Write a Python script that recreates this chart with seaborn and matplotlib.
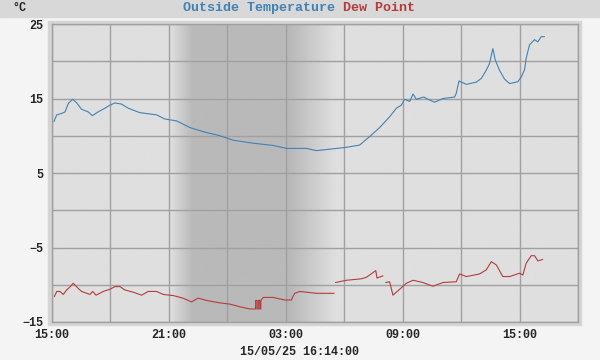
import numpy as np
import pandas as pd
import matplotlib
matplotlib.use('Agg')
import matplotlib.pyplot as plt
import matplotlib.dates as mdates
from matplotlib.patches import Rectangle
import seaborn as sns

# hours after 14/05/25 15:00
temp_hours = [0.1, 0.24, 0.5, 0.67, 0.84, 1.06, 1.27, 1.52, 1.86, 2.07, 2.37, 2.72, 2.97,
              3.23, 3.57, 3.91, 4.51, 5.37, 5.79, 6.39, 7.08, 7.76, 8.62, 9.3, 10.32, 11.35,
              12.04, 13.06, 13.57, 14.26, 15.11, 15.79, 16.31, 16.82, 17.33, 17.68, 17.93,
              18.1, 18.36, 18.53, 18.7, 19.08, 19.38, 19.64, 20.07, 20.67, 20.75, 20.89,
              21.27, 21.78, 22.04, 22.29, 22.46, 22.55, 22.63, 22.75, 22.97, 23.23, 23.49,
              23.91, 24.09, 24.26, 24.34, 24.51, 24.77, 24.94, 25.11, 25.28]
temp_values = [11.9, 12.8, 13.0, 13.2, 14.35, 14.9, 14.4, 13.55, 13.2, 12.7, 13.2, 13.7, 14.1,
               14.4, 14.25, 13.7, 13.1, 12.8, 12.25, 12.0, 11.1, 10.55, 10.0, 9.4, 9.0, 8.7,
               8.3, 8.3, 8.0, 8.2, 8.45, 8.75, 9.9, 11.1, 12.55, 13.7, 14.1,
               14.9, 14.6, 15.6, 14.9, 15.2, 14.8, 14.5, 15.0, 15.2, 15.7, 17.35,
               16.9, 17.2, 17.7, 18.8, 19.7, 20.8, 21.7, 20.2, 18.8, 17.6, 17.0,
               17.25, 17.9, 18.9, 20.4, 22.2, 22.9, 22.6, 23.3, 23.3]

dew_hours = [0.12, 0.24, 0.41, 0.58, 0.75, 0.92, 1.09, 1.35, 1.52, 1.95, 2.09, 2.26, 2.63,
             2.97, 3.23, 3.49, 3.74, 4.17, 4.6, 4.94, 5.37, 5.71, 6.22, 6.73, 7.16, 7.5,
             7.93, 8.53, 9.13, 9.64, 10.15, 10.41, 10.45, 10.45, 10.52, 10.52, 10.59, 10.59,
             10.66, 10.66, 10.72, 10.72,
             10.84, 11.35, 11.95, 12.29, 12.36, 12.46, 12.72, 13.57, 14.48,
             14.55, 15.11, 15.88, 16.14, 16.62, 16.68, 16.99,
             17.13, 17.33, 17.5, 17.85, 18.19, 18.53, 19.04, 19.55, 20.07, 20.75, 20.92,
             21.27, 21.95, 22.29, 22.55, 22.81, 23.14, 23.49, 24.0, 24.17, 24.34, 24.6,
             24.77, 24.94, 25.19]
dew_values = [-11.6, -10.9, -10.9, -11.3, -10.7, -10.3, -9.8, -10.5, -10.9, -11.3, -10.9, -11.4, -10.9,
              -10.6, -10.25, -10.25, -10.7, -11.0, -11.4, -10.9, -10.9, -11.3, -11.45, -11.8, -12.3, -11.8,
              -12.1, -12.4, -12.6, -12.95, -13.25, -13.25, -13.25, -12.1, -12.1, -13.25, -13.25, -12.1,
              -12.1, -13.25, -13.25, -12.1,
              -11.7, -11.7, -12.05, -12.05, -11.6, -11.15, -10.9, -11.15, -11.15,
              -9.7, -9.4, -9.2, -9.0, -8.1, -9.1, -8.8,
              -9.7, -9.6, -11.4, -10.6, -9.8, -9.4, -9.7, -10.2, -9.7, -9.6, -8.55,
              -8.9, -8.55, -8.0, -6.9, -7.35, -8.9, -8.9, -8.45, -8.7, -7.1, -6.1,
              -6.1, -6.8, -6.6]
# dew point segments (gaps in the record)
dew_segment = [0] * 51 + [1] * 7 + [2] * 25

start = pd.Timestamp('2025-05-14 15:00')
end = pd.Timestamp('2025-05-15 18:00')

temp_df = pd.DataFrame({'time': start + pd.to_timedelta(temp_hours, unit='h'),
                        'value': temp_values, 'seg': 0})
dew_df = pd.DataFrame({'time': start + pd.to_timedelta(dew_hours, unit='h'),
                       'value': dew_values, 'seg': dew_segment})

sns.set_style('white')
plt.rcParams['font.family'] = ['Liberation Mono', 'DejaVu Sans Mono']

fig = plt.figure(figsize=(6, 3.6), dpi=100)
fig.patch.set_facecolor('#f4f4f4')
fig.patches.append(Rectangle((0, 1 - 17 / 360), 1, 17 / 360, transform=fig.transFigure,
                             color='#d8d8d8', zorder=-10))
fig.patches.append(Rectangle((48 / 600, 35 / 360), 533 / 600, 304 / 360, transform=fig.transFigure,
                             color='#d5d5d5', zorder=-10))

ax = fig.add_axes([52 / 600, 38 / 360, 526 / 600, 298 / 360])
ax.set_zorder(1)
ax.set_facecolor('#dfdfdf')

# night shading
hh = np.linspace(0, 27, 600)
shade = np.interp(hh, [0, 6.05, 7.2, 12.05, 12.06, 14.6, 27], [223, 223, 185, 185, 182, 223, 223])
x0, x1 = mdates.date2num(start), mdates.date2num(end)
ax.imshow(np.tile(shade / 255, (2, 1)), cmap='gray', vmin=0, vmax=1, aspect='auto',
          extent=[x0, x1, -15, 25], zorder=0, interpolation='bilinear')

sns.lineplot(data=temp_df, x='time', y='value', units='seg', estimator=None, sort=False,
             color='#4282b4', linewidth=0.8, ax=ax, zorder=3)
sns.lineplot(data=dew_df, x='time', y='value', units='seg', estimator=None, sort=False,
             color='#b43c3c', linewidth=0.8, ax=ax, zorder=3)

ax.set_xlim(x0, x1)
ax.set_ylim(-15, 25)
ax.set_yticks(range(-15, 26, 5))
ax.set_yticklabels(['\u221215', '', '\u22125', '', '5', '', '15', '', '25'])
ax.xaxis.set_major_locator(mdates.HourLocator(byhour=[3, 9, 15, 21]))
ax.xaxis.set_minor_locator(mdates.HourLocator(byhour=[0, 6, 12, 18]))
ax.xaxis.set_major_formatter(mdates.DateFormatter('%H:%M'))
ax.grid(True, which='both', color='#a0a0a0', linewidth=1)
for line in ax.get_xgridlines() + ax.get_ygridlines() + ax.xaxis.get_minorticklines():
    line.set_zorder(1)
ax.set_axisbelow(True)
ax.tick_params(axis='both', which='both', length=0, labelsize=8.5)
ax.tick_params(axis='y', pad=6)
ax.tick_params(axis='x', pad=5)
for lab in ax.get_xticklabels() + ax.get_yticklabels():
    lab.set_fontweight('bold')
for s in ax.spines.values():
    s.set_color('#a0a0a0')
    s.set_linewidth(1)
ax.set_xlabel('')
ax.set_ylabel('')

fig.text(183 / 600, 1 - 8 / 360, 'Outside Temperature', color='#4282b4', fontsize=9.6,
         ha='left', va='center', fontweight='bold')
fig.text(343 / 600, 1 - 8 / 360, 'Dew Point', color='#b43c3c', fontsize=9.6,
         ha='left', va='center', fontweight='bold')
fig.text(12 / 600, 1 - 8 / 360, '\u00b0C', fontsize=8.5, ha='left', va='center', fontweight='bold')
fig.text(300 / 600, 8 / 360, '15/05/25 16:14:00', fontsize=8.5, ha='center', va='center',
         fontweight='bold')

fig.savefig('out.png', dpi=100, facecolor=fig.get_facecolor())
